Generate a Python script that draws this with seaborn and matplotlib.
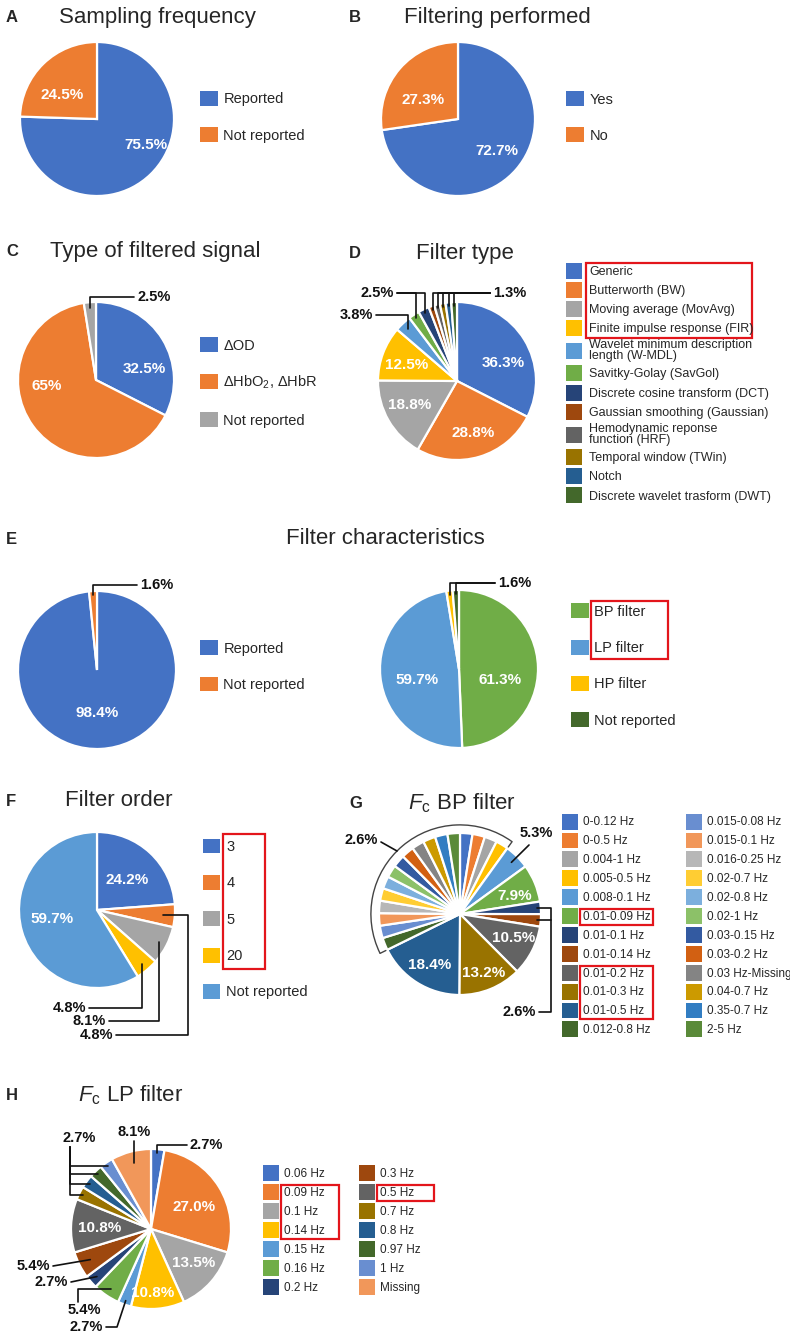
import numpy as np
import seaborn as sns
import matplotlib.pyplot as plt
from matplotlib.lines import Line2D
from matplotlib.patches import Arc, Rectangle

sns.set_style('white')
plt.rcParams['font.family'] = ['Liberation Sans', 'DejaVu Sans']
plt.rcParams['mathtext.fontset'] = 'custom'
plt.rcParams['mathtext.rm'] = 'Liberation Sans'
plt.rcParams['mathtext.it'] = 'Liberation Sans:italic'
plt.rcParams['mathtext.bf'] = 'Liberation Sans:bold'

# ---- data: percentages as printed on the figure ----
sampling_labels = ['Reported', 'Not reported']
sampling_pct = [75.5, 24.5]

filtering_labels = ['Yes', 'No']
filtering_pct = [72.7, 27.3]

signal_labels = ['ΔOD', r'ΔHbO$_2$, ΔHbR', 'Not reported']
signal_pct = [32.5, 65.0, 2.5]

ftype_labels = ['Generic', 'Butterworth (BW)', 'Moving average (MovAvg)',
                'Finite impulse response (FIR)',
                'Wavelet minimum description\nlength (W-MDL)',
                'Savitky-Golay (SavGol)', 'Discrete cosine transform (DCT)',
                'Gaussian smoothing (Gaussian)',
                'Hemodynamic reponse\nfunction (HRF)',
                'Temporal window (TWin)', 'Notch',
                'Discrete wavelet trasform (DWT)']
ftype_pct = [36.3, 28.8, 18.8, 12.5, 3.8, 2.5, 2.5, 1.3, 1.3, 1.3, 1.3, 1.3]

report_labels = ['Reported', 'Not reported']
report_pct = [98.4, 1.6]

pass_labels = ['BP filter', 'LP filter', 'HP filter', 'Not reported']
pass_pct = [61.3, 59.7, 1.6, 1.6]

order_labels = ['3', '4', '5', '20', 'Not reported']
order_pct = [24.2, 4.8, 8.1, 4.8, 59.7]

bp_labels = ['0-0.12 Hz', '0-0.5 Hz', '0.004-1 Hz', '0.005-0.5 Hz',
             '0.008-0.1 Hz', '0.01-0.09 Hz', '0.01-0.1 Hz', '0.01-0.14 Hz',
             '0.01-0.2 Hz', '0.01-0.3 Hz', '0.01-0.5 Hz', '0.012-0.8 Hz',
             '0.015-0.08 Hz', '0.015-0.1 Hz', '0.016-0.25 Hz', '0.02-0.7 Hz',
             '0.02-0.8 Hz', '0.02-1 Hz', '0.03-0.15 Hz', '0.03-0.2 Hz',
             '0.03 Hz-Missing', '0.04-0.7 Hz', '0.35-0.7 Hz', '2-5 Hz']
bp_pct = [2.6, 2.6, 2.6, 2.6, 5.3, 7.9, 2.6, 2.6, 10.5, 13.2, 18.4, 2.6,
          2.6, 2.6, 2.6, 2.6, 2.6, 2.6, 2.6, 2.6, 2.6, 2.6, 2.6, 2.6]

lp_labels = ['0.06 Hz', '0.09 Hz', '0.1 Hz', '0.14 Hz', '0.15 Hz', '0.16 Hz',
             '0.2 Hz', '0.3 Hz', '0.5 Hz', '0.7 Hz', '0.8 Hz', '0.97 Hz',
             '1 Hz', 'Missing']
lp_pct = [2.7, 27.0, 13.5, 10.8, 2.7, 5.4, 2.7, 5.4, 10.8, 2.7, 2.7, 2.7,
          2.7, 8.1]

# office-style palette
office = sns.color_palette([
    '#4472C4', '#ED7D31', '#A5A5A5', '#FFC000', '#5B9BD5', '#70AD47',
    '#264478', '#9E480E', '#636363', '#997300', '#255E91', '#43682B',
    '#698ED0', '#F1975A', '#B7B7B7', '#FFCD33', '#7CAFDD', '#8CC168',
    '#335AA1', '#D26012', '#848484', '#CC9A00', '#327DC2', '#5A8A39'])

W, H = 790, 1339
INK = '#111111'
fig = plt.figure(figsize=(W / 100, H / 100), dpi=100)


def px(x, y):
    return (x / W, 1 - y / H)


def pie_at(geo, values, colors):
    cx, cy, r = geo
    ax = fig.add_axes([(cx - r) / W, 1 - (cy + r) / H, 2 * r / W, 2 * r / H])
    wedges, _ = ax.pie(values, colors=colors, startangle=90, counterclock=False,
                       wedgeprops=dict(edgecolor='white', linewidth=1.6))
    ax.set_xlim(-1, 1)
    ax.set_ylim(-1, 1)
    ax.set_aspect('equal')
    ax.axis('off')
    return ax, wedges


def anchor(geo, w, frac=0.9):
    cx, cy, r = geo
    t = np.deg2rad((w.theta1 + w.theta2) / 2)
    return (cx + frac * r * np.cos(t), cy - frac * r * np.sin(t))


def route(*pts):
    xs = [p[0] / W for p in pts]
    ys = [1 - p[1] / H for p in pts]
    fig.add_artist(Line2D(xs, ys, transform=fig.transFigure, color=INK, lw=1.2))


def note(x, y, s, ha='left'):
    fig.text(*px(x, y), s, fontsize=10.5, fontweight='bold', ha=ha, va='center', color=INK)


def inner(x, y, s):
    fig.text(*px(x, y), s, fontsize=11, fontweight='bold', ha='center', va='center', color='white')


def head(letter, lx, tx, y, title):
    fig.text(*px(lx, y), letter, fontsize=12, fontweight='bold', ha='left', va='center')
    if title:
        fig.text(*px(tx, y), title, fontsize=16, ha='center', va='center')


def key(handles, labels, x, y0, y1, fs, hl, hh, ls, pad):
    leg = fig.legend(handles, labels, loc='center left', bbox_to_anchor=px(x, (y0 + y1) / 2),
                     frameon=False, fontsize=fs, handlelength=hl, handleheight=hh,
                     labelspacing=ls, handletextpad=pad, borderpad=0, borderaxespad=0)
    for h in leg.legend_handles:
        h.set_edgecolor('none')
    return leg


def big_key(handles, labels, x, y0, y1):
    return key(handles, labels, x, y0, y1, 10.5, 1.2, 1.2, 1.44, 0.4)


def small_key(handles, labels, x, y0, y1):
    return key(handles, labels, x, y0, y1, 8.5, 1.35, 1.7, 0.25, 0.4)


# ---- A: sampling frequency ----
gA = (97, 119, 77)
axA, wA = pie_at(gA, sampling_pct, office[:2])
head('A', 6, 157, 18, 'Sampling frequency')
inner(146, 145, f'{sampling_pct[0]:.1f}%')
inner(62, 95, f'{sampling_pct[1]:.1f}%')
big_key(wA, sampling_labels, 200, 99, 135)

# ---- B: filtering performed ----
gB = (458, 119, 77)
axB, wB = pie_at(gB, filtering_pct, office[:2])
head('B', 349, 497, 18, 'Filtering performed')
inner(497, 151, f'{filtering_pct[0]:.1f}%')
inner(423, 100, f'{filtering_pct[1]:.1f}%')
big_key(wB, filtering_labels, 566, 99, 135)

# ---- C: type of filtered signal ----
gC = (96, 380, 78)
axC, wC = pie_at(gC, signal_pct, office[:3])
head('C', 6, 155, 252, 'Type of filtered signal')
inner(144, 369, f'{signal_pct[0]:g}%')
inner(47, 386, f'{signal_pct[1]:g}%')
a = anchor(gC, wC[2], 0.92)
route((134, 297), (a[0], 297), a)
note(137, 297, f'{signal_pct[2]:g}%')
big_key(wC, signal_labels, 200, 346, 419)

# ---- D: filter type ----
gD = (457, 381, 79)
axD, wD = pie_at(gD, ftype_pct, office[:12])
head('D', 349, 465, 253, 'Filter type')
inner(503, 363, f'{ftype_pct[0]:.1f}%')
inner(473, 433, f'{ftype_pct[1]:.1f}%')
inner(410, 405, f'{ftype_pct[2]:.1f}%')
inner(407, 365, f'{ftype_pct[3]:.1f}%')
a = anchor(gD, wD[4], 0.9)
route((376, 315), (a[0], 315), a)
note(373, 315, f'{ftype_pct[4]:.1f}%', ha='right')
for i in (5, 6):
    a = anchor(gD, wD[i], 0.95)
    route((397, 293), (a[0], 293), a)
note(394, 293, f'{ftype_pct[5]:.1f}%', ha='right')
for i in range(7, 12):
    a = anchor(gD, wD[i], 0.95)
    route((490, 293), (a[0], 293), a)
note(493, 293, f'{ftype_pct[7]:.1f}%')
legD = key(wD, ftype_labels, 566, 268, 498, 9, 1.28, 1.59, 0.26, 0.55)
for t in legD.get_texts():
    t.set_linespacing(0.85)

# ---- E: filter characteristics ----
fig.text(*px(6, 540), 'E', fontsize=12, fontweight='bold', ha='left', va='center')
fig.text(*px(385, 538), 'Filter characteristics', fontsize=16, ha='center', va='center')
gE1 = (97, 670, 79)
axE1, wE1 = pie_at(gE1, report_pct, office[:2])
inner(97, 713, f'{report_pct[0]:.1f}%')
a = anchor(gE1, wE1[1], 0.95)
route((137, 585), (a[0], 585), a)
note(140, 585, f'{report_pct[1]:.1f}%')
big_key(wE1, report_labels, 200, 648, 684)

gE2 = (459, 669, 79)
axE2, wE2 = pie_at(gE2, pass_pct, [office[5], office[4], office[3], office[11]])
inner(500, 680, f'{pass_pct[0]:.1f}%')
inner(417, 680, f'{pass_pct[1]:.1f}%')
for i in (2, 3):
    a = anchor(gE2, wE2[i], 0.95)
    route((495, 583), (a[0], 583), a)
note(498, 583, f'{pass_pct[2]:.1f}%')
legE2 = big_key(wE2, pass_labels, 571, 612, 719)

# ---- F: filter order ----
gF = (97, 910, 78)
axF, wF = pie_at(gF, order_pct, [office[0], office[1], office[2], office[3], office[4]])
head('F', 6, 119, 801, 'Filter order')
inner(127, 880, f'{order_pct[0]:.1f}%')
inner(52, 919, f'{order_pct[4]:.1f}%')
a = anchor(gF, wF[3], 0.9)
route((89, 1008), (a[0], 1008), a)
note(86, 1008, f'{order_pct[3]:.1f}%', ha='right')
a = anchor(gF, wF[2], 0.9)
route((109, 1021), (a[0], 1021), a)
note(106, 1021, f'{order_pct[2]:.1f}%', ha='right')
a = anchor(gF, wF[1], 0.85)
route((116, 1035), (188, 1035), (188, a[1]), a)
note(113, 1035, f'{order_pct[1]:.1f}%', ha='right')
legF = big_key(wF, order_labels, 203, 847, 991)

# ---- G: Fc BP filter ----
gG = (460, 914, 81)
axG, wG = pie_at(gG, bp_pct, office[:24])
head('G', 349, 462, 803, r'$F_{\mathrm{c}}$ BP filter')
inner(515, 896, f'{bp_pct[5]:.1f}%')
inner(514, 938, f'{bp_pct[8]:.1f}%')
inner(484, 973, f'{bp_pct[9]:.1f}%')
inner(430, 965, f'{bp_pct[10]:.1f}%')
a = anchor(gG, wG[4], 0.9)
route((529, 845), a)
note(536, 833, f'{bp_pct[4]:.1f}%', ha='center')
# bracket over the small slices
t0 = wG[3].theta1
t1 = wG[11].theta2 + 360
axG.add_patch(Arc((0, 0), 2.2, 2.2, theta1=t0, theta2=t1, color='#444444', lw=1.0, clip_on=False))
for t in (t0, t1):
    c, s = np.cos(np.deg2rad(t)), np.sin(np.deg2rad(t))
    axG.plot([1.02 * c, 1.1 * c], [1.02 * s, 1.1 * s], color='#444444', lw=1.0, clip_on=False)
arc_pt = (gG[0] + 1.1 * gG[2] * np.cos(np.deg2rad(135)), gG[1] - 1.1 * gG[2] * np.sin(np.deg2rad(135)))
route((381, 842), arc_pt)
note(378, 840, f'{bp_pct[0]:.1f}%', ha='right')
an = anchor(gG, wG[6], 0.95)
ab = anchor(gG, wG[7], 0.95)
route((539, 1012), (551, 1012), (551, an[1]), an)
route((551, ab[1]), ab)
note(536, 1012, f'{bp_pct[6]:.1f}%', ha='right')
legG1 = small_key(wG[:12], bp_labels[:12], 562, 820, 1031)
legG2 = small_key(wG[12:], bp_labels[12:], 686, 820, 1031)

# ---- H: Fc LP filter ----
gH = (151, 1229, 80)
axH, wH = pie_at(gH, lp_pct, office[:14])
head('H', 6, 131, 1095, r'$F_{\mathrm{c}}$ LP filter')
inner(194, 1207, f'{lp_pct[1]:.1f}%')
inner(194, 1263, f'{lp_pct[2]:.1f}%')
inner(153, 1293, f'{lp_pct[3]:.1f}%')
inner(100, 1228, f'{lp_pct[8]:.1f}%')
a = anchor(gH, wH[0], 0.95)
route((187, 1145), (a[0], 1145), a)
note(190, 1145, f'{lp_pct[0]:.1f}%')
a = anchor(gH, wH[13], 0.85)
route((a[0], 1141), a)
note(a[0], 1132, f'{lp_pct[13]:.1f}%', ha='center')
for i in (9, 10, 11, 12):
    a = anchor(gH, wH[i], 0.95)
    route((70, 1147), (70, a[1]), a)
note(63, 1138, f'{lp_pct[12]:.1f}%')
a = anchor(gH, wH[7], 0.85)
route((53, 1266), a)
note(50, 1266, f'{lp_pct[7]:.1f}%', ha='right')
a = anchor(gH, wH[6], 0.9)
route((71, 1282), a)
note(68, 1282, f'{lp_pct[6]:.1f}%', ha='right')
a = anchor(gH, wH[5], 0.9)
route((78, 1302), (78, a[1]), a)
note(84, 1310, f'{lp_pct[5]:.1f}%', ha='center')
a = anchor(gH, wH[4], 0.95)
route((106, 1327), (117, 1327), a)
note(103, 1327, f'{lp_pct[4]:.1f}%', ha='right')
legH1 = small_key(wH[:7], lp_labels[:7], 263, 1172, 1288)
legH2 = small_key(wH[7:], lp_labels[7:], 359, 1172, 1288)

# ---- red highlight boxes around legend entries ----
fig.canvas.draw()
rend = fig.canvas.get_renderer()


def redbox(leg, idxs, right, pady=3, padl=3):
    bbs = [leg.get_texts()[i].get_window_extent(rend) for i in idxs]
    x0 = min(b.x0 for b in bbs) - padl
    y0 = min(b.y0 for b in bbs) - pady
    y1 = max(b.y1 for b in bbs) + pady
    fig.add_artist(Rectangle((x0 / W, y0 / H), (right - x0) / W, (y1 - y0) / H,
                             transform=fig.transFigure, fill=False,
                             edgecolor='#E3151B', lw=1.6))


redbox(legD, [0, 1, 2, 3], 752)
redbox(legE2, [0, 1], 668, pady=4)
redbox(legF, [0, 1, 2, 3], 265, pady=6)
redbox(legG1, [5], 653, pady=2)
redbox(legG1, [8, 9, 10], 653, pady=2)
redbox(legH1, [1, 2, 3], 339, pady=2)
redbox(legH2, [1], 434, pady=2)

fig.savefig('out.png', dpi=100)
